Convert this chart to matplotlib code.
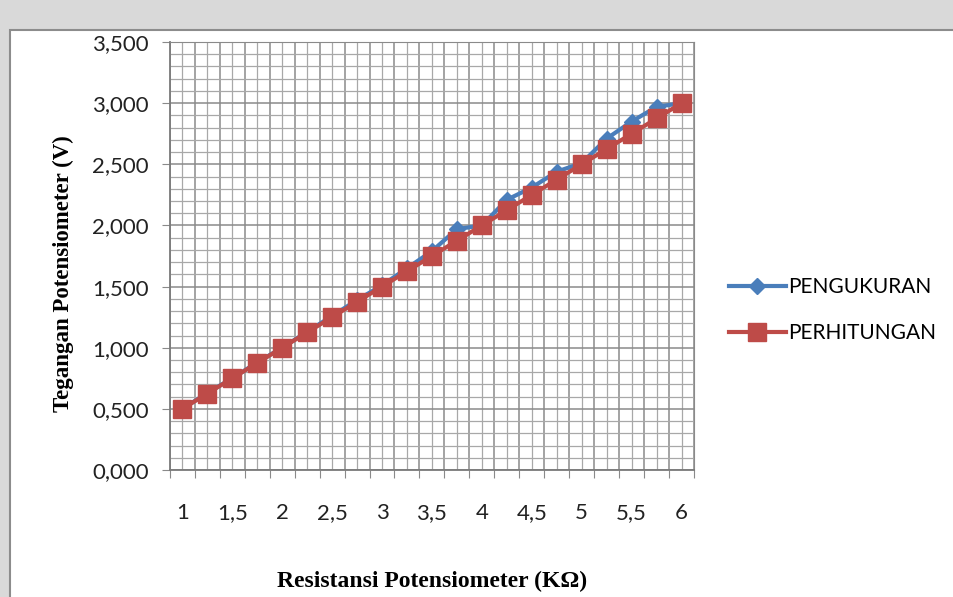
import matplotlib.pyplot as plt
from matplotlib.patches import Rectangle
from matplotlib.ticker import FixedLocator, MultipleLocator, FuncFormatter

resistansi = ['1', '1,25', '1,5', '1,75', '2', '2,25', '2,5', '2,75', '3', '3,25', '3,5',
              '3,75', '4', '4,25', '4,5', '4,75', '5', '5,25', '5,5', '5,75', '6']
pengukuran = [0.50, 0.63, 0.75, 0.88, 1.00, 1.13, 1.26, 1.39, 1.51, 1.65, 1.79,
              1.97, 2.00, 2.21, 2.31, 2.44, 2.51, 2.71, 2.85, 2.97, 3.00]
perhitungan = [0.500, 0.625, 0.750, 0.875, 1.000, 1.125, 1.250, 1.375, 1.500, 1.625, 1.750,
               1.875, 2.000, 2.125, 2.250, 2.375, 2.500, 2.625, 2.750, 2.875, 3.000]
x_labels = [r if i % 2 == 0 else '' for i, r in enumerate(resistansi)]

blue = '#4a7ebb'
red = '#be4b48'
sans = ['Lato', 'DejaVu Sans']
serif = ['Liberation Serif', 'DejaVu Serif']

fig = plt.figure(figsize=(9.54, 5.97), dpi=100, facecolor='#d9d9d9')
fig.add_artist(Rectangle((0.0105, -0.02), 1.0, 0.97, transform=fig.transFigure,
                         facecolor='white', edgecolor='#8c8c8c', linewidth=1.5, zorder=-10))

ax = fig.add_axes([0.178, 0.2127, 0.5495, 0.7169])
xs = list(range(len(resistansi)))
ax.plot(xs, pengukuran, color=blue, lw=3, marker='D', ms=8, label='PENGUKURAN', zorder=3)
ax.plot(xs, perhitungan, color=red, lw=3, marker='s', ms=13, label='PERHITUNGAN', zorder=4)

ax.set_xlim(-0.5, len(resistansi) - 0.5)
ax.set_ylim(0, 3.5)

# category boundaries get the darker grid and tick marks, centres get lighter grid + labels
ax.xaxis.set_major_locator(FixedLocator([i - 0.5 for i in range(len(resistansi) + 1)]))
ax.xaxis.set_major_formatter(FuncFormatter(lambda v, p: ''))
ax.xaxis.set_minor_locator(FixedLocator(xs))
ax.set_xticklabels(x_labels, minor=True)
ax.yaxis.set_major_locator(MultipleLocator(0.5))
ax.yaxis.set_minor_locator(MultipleLocator(0.1))
ax.yaxis.set_major_formatter(FuncFormatter(lambda v, p: f'{v:.3f}'.replace('.', ',')))

ax.grid(which='major', color='#8a8a8a', lw=1.1)
ax.grid(which='minor', color='#a8a8a8', lw=0.9)
ax.set_axisbelow(True)

ax.tick_params(axis='x', which='major', length=6, color='#8a8a8a', direction='out')
ax.tick_params(axis='x', which='minor', length=0, pad=24, labelsize=16)
ax.tick_params(axis='y', which='major', length=6, color='#8a8a8a', pad=9, labelsize=16)
ax.tick_params(axis='y', which='minor', length=0)
for lab in ax.get_xticklabels(minor=True) + ax.get_yticklabels():
    lab.set_family(sans)
    lab.set_color('#222222')

for s in ['top', 'right']:
    ax.spines[s].set_color('#8a8a8a')
for s in ['left', 'bottom']:
    ax.spines[s].set_color('#7a7a7a')
    ax.spines[s].set_linewidth(1.3)

ax.set_ylabel('Tegangan Potensiometer (V)', family=serif, fontweight='bold', fontsize=16.5)
ax.set_xlabel('Resistansi Potensiometer (K\u03a9)', family=serif, fontweight='bold', fontsize=17)
ax.yaxis.set_label_coords(-0.182, 0.46)
ax.xaxis.set_label_coords(0.5, -0.236)

fig.legend(loc='center left', bbox_to_anchor=(0.744, 0.48), frameon=False,
           handlelength=2.75, handletextpad=0.1, labelspacing=1.25, numpoints=1,
           markerscale=1.0, prop={'family': sans, 'size': 15})

fig.savefig('out.png', dpi=100, facecolor=fig.get_facecolor())
